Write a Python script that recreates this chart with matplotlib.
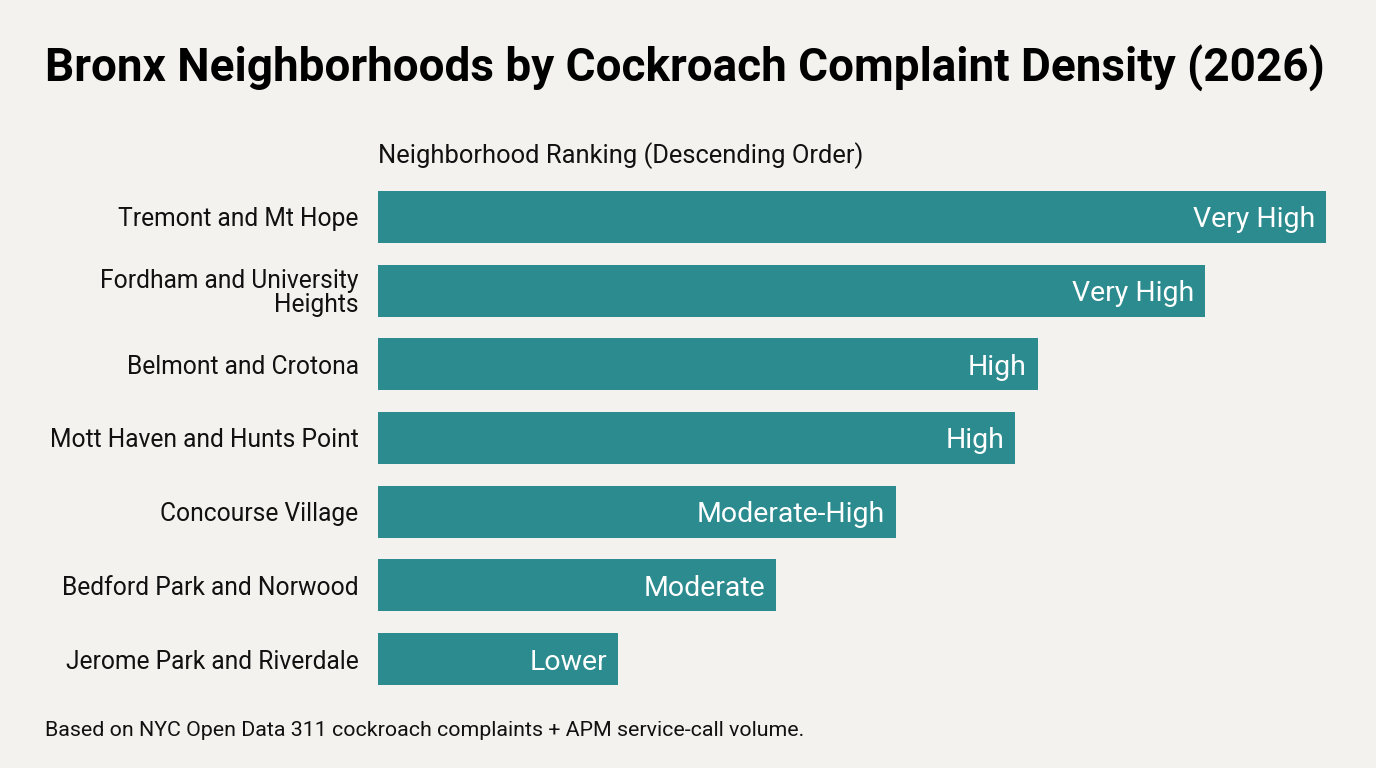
import matplotlib
matplotlib.use('Agg')
import matplotlib.pyplot as plt
import numpy as np

# === DATA ===
neighborhoods = [
    'Tremont and Mt Hope',
    'Fordham and University\nHeights',
    'Belmont and Crotona',
    'Mott Haven and Hunts Point',
    'Concourse Village',
    'Bedford Park and Norwood',
    'Jerome Park and Riverdale',
]
density_index = [100, 87.2, 69.6, 67.2, 54.6, 42.0, 25.3]
tiers = ['Very High', 'Very High', 'High', 'High', 'Moderate-High', 'Moderate', 'Lower']

BG = '#F3F2EE'
BAR = '#2B8B8E'
TEXT = '#111111'

plt.rcParams['font.family'] = ['Roboto', 'DejaVu Sans']

fig = plt.figure(figsize=(13.76, 7.68), dpi=100, facecolor=BG)
ax = fig.add_axes([0.2747, 0.0939, 0.6890, 0.6716])
ax.set_facecolor(BG)

y_pos = np.arange(len(neighborhoods))
bars = ax.barh(y_pos, density_index, height=0.705, color=BAR)

# tier label inside the right end of each bar
for bar, tier in zip(bars, tiers):
    ax.text(bar.get_width() - 1.15, bar.get_y() + bar.get_height() / 2, tier,
            ha='right', va='center_baseline', color='white', fontsize=20.5)

ax.set_xlim(0, 100)
ax.set_ylim(len(neighborhoods) - 0.5, -0.5)
ax.set_yticks(y_pos)
ax.set_yticklabels(neighborhoods, fontsize=17.7, color=TEXT, linespacing=1.0)
ax.tick_params(axis='y', length=0, pad=14)
ax.set_xticks([])
for s in ax.spines.values():
    s.set_visible(False)

fig.text(0.0327, 0.911, 'Bronx Neighborhoods by Cockroach Complaint Density (2026)',
         fontsize=33, fontweight='bold', color='black', va='center', ha='left')
fig.text(0.2747, 0.797, 'Neighborhood Ranking (Descending Order)',
         fontsize=18.4, color=TEXT, va='center', ha='left')
fig.text(0.0327, 0.049, 'Based on NYC Open Data 311 cockroach complaints + APM service-call volume.',
         fontsize=15.4, color=TEXT, va='center', ha='left')

fig.savefig('out.png', dpi=100, facecolor=BG)
